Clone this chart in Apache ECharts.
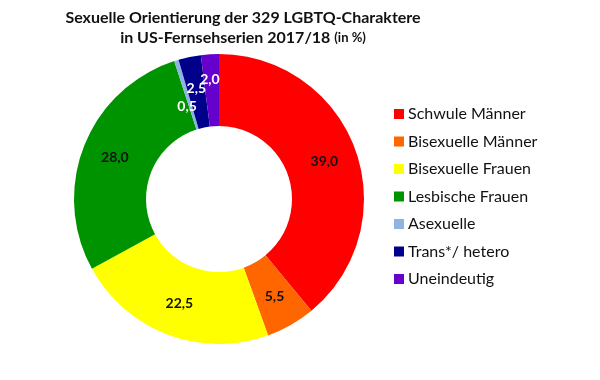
<!DOCTYPE html>
<html><head><meta charset="utf-8">
<script src="https://cdn.jsdelivr.net/npm/echarts@6/dist/echarts.min.js"></script>
<style>html,body{margin:0;padding:0;background:#fff}#c{width:600px;height:380px}</style>
</head><body><div id="c"></div>
<script>
const categories = ['Schwule Männer','Bisexuelle Männer','Bisexuelle Frauen','Lesbische Frauen','Asexuelle','Trans*/ hetero','Uneindeutig'];
const values = [39.0, 5.5, 22.5, 28.0, 0.5, 2.5, 2.0];
const colors = ['#FF0000','#FF6600','#FFFF00','#009300','#8DB4E2','#00008B','#6600CC'];
const labelColors = ['#111','#111','#111','#111','#fff','#fff','#fff'];
const labelOffsets = [[0,0],[0,0],[0,0],[0,0],[1,15],[0,-1],[-2,-8]];
const FONT = 'Lato';
const chart = echarts.init(document.getElementById('c'), null, {renderer:'canvas'});
chart.setOption({
  animation:false,
  backgroundColor:'#fff',
  title:{
    text:'Sexuelle Orientierung der 329 LGBTQ-Charaktere\nin US-Fernsehserien 2017/18 {s|(in %)}',
    left:238, top:3, textAlign:'center',
    textStyle:{fontFamily:FONT, fontWeight:'bold', fontSize:16, color:'#111', lineHeight:20,
      rich:{s:{fontFamily:FONT, fontWeight:'bold', fontSize:13, color:'#111', lineHeight:20}}}
  },
  legend:{
    orient:'vertical', left:389, top:101,
    itemWidth:10, itemHeight:10, itemGap:11.5, icon:'rect',
    textStyle:{fontFamily:FONT, fontSize:16, color:'#111', lineHeight:16, padding:[0,0,0,-1]},
    data:categories
  },
  series:[{
    type:'pie', center:[219,199], radius:[73,145], startAngle:90, clockwise:true,
    avoidLabelOverlap:false,
    labelLayout:{hideOverlap:false},
    label:{show:true, position:'inside', fontFamily:FONT, fontWeight:'bold', fontSize:14,
      formatter:p=>p.value.toFixed(1).replace('.',',')},
    labelLine:{show:false},
    emphasis:{disabled:true},
    data:categories.map((n,i)=>({name:n, value:values[i],
      itemStyle:{color:colors[i]},
      label:{color:labelColors[i], offset:labelOffsets[i]}}))
  }]
});
</script></body></html>
